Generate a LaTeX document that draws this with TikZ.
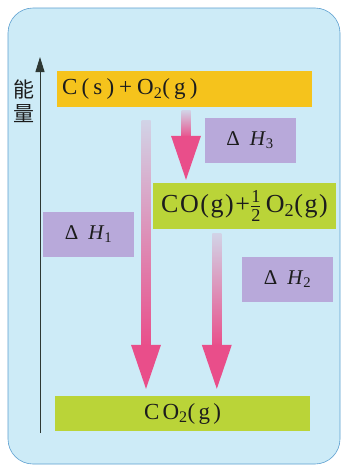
\documentclass[tikz,border=0pt]{standalone}
\usepackage{amsmath}
\usepackage{fontspec}
\setmainfont{Liberation Serif}
\newfontfamily\cjk{Noto Sans CJK SC}
\usetikzlibrary{arrows.meta,positioning,calc}
\usepackage{xcolor}
\definecolor{bgblue}{HTML}{CDEBF7}
\definecolor{edgeblue}{HTML}{5C9FD0}
\definecolor{levelyellow}{HTML}{F5C31C}
\definecolor{levelgreen}{HTML}{BAD438}
\definecolor{heatpurple}{HTML}{B8A9DA}
\definecolor{arrowpink}{HTML}{E94E8A}
\definecolor{axisgray}{HTML}{2E3834}
\definecolor{inkdark}{HTML}{1C1C1C}

% thick shaded arrow between two coordinates
\newcommand{\heatarrow}[2]{%
  \shade[top color=arrowpink!15!bgblue, bottom color=arrowpink]
    ($(#1)+(-4.5,0)$) rectangle ($(#2)+(4.5,-42)$);
  \fill[arrowpink] ($(#2)+(-15,-44)$) -- ($(#2)+(15,-44)$) -- (#2) -- cycle;}

\begin{document}
\begin{tikzpicture}[x=1pt, y=-1pt,
  level/.style={minimum height=36pt, inner sep=0pt, text=inkdark,
    font=\fontsize{23}{27}\selectfont\addfontfeature{LetterSpace=14}},
  heat/.style={fill=heatpurple, minimum width=91pt, minimum height=45pt,
    inner sep=0pt, text=inkdark, font=\fontsize{21}{25}\selectfont}
]
\useasboundingbox (0,0) rectangle (341,466);
\fill[white] (0,0) rectangle (341,466);
\draw[fill=bgblue, draw=edgeblue, line width=0.6pt, rounded corners=25pt]
  (8,8) rectangle (340,464);

% energy axis
\coordinate (axbot) at (40,433);
\coordinate (axtop) at (40,57);
\draw[axisgray, line width=1pt, -{Triangle[length=15pt,width=9pt]}] (axbot) -- (axtop);
\node[text=inkdark, align=center, font=\cjk\fontsize{21}{24}\selectfont, inner sep=0pt]
  (energy) at (24,101) {能\\量};

% levels
\node[level, fill=levelyellow, anchor=west, text width=245pt, inner xsep=5pt, align=left,
    font=\fontsize{23}{27}\selectfont\addfontfeature{LetterSpace=18}]
  (levelA) at (57,89) {C(s)\hspace{5pt}+\hspace{5pt}O\textsubscript{2}(g)};
\node[level, fill=levelgreen, minimum width=183pt, minimum height=46pt,
    font=\fontsize{26}{30}\selectfont\addfontfeature{LetterSpace=6}]
  (levelB) at (244.5,206) {CO(g)+\ensuremath{\tfrac{\text{1}}{\text{2}}}\,O\textsubscript{2}(g)};
\node[level, fill=levelgreen, minimum width=255pt, minimum height=35pt]
  (levelC) at (182.5,413.5) {CO\textsubscript{2}(g)};

% enthalpy labels
\node[heat] (dH3) at (250,140.5) {Δ\hspace{10pt}\textit{H}\textsubscript{3}};
\node[heat] (dH1) at (88.5,234.5) {Δ\hspace{10pt}\textit{H}\textsubscript{1}};
\node[heat] (dH2) at (287.5,279.5) {Δ\hspace{10pt}\textit{H}\textsubscript{2}};

% arrows
\coordinate (a3s) at ($(levelA.south west)+(129,3)$);
\coordinate (a3e) at (a3s |- {$(levelB.north)+(0,-3)$});
\coordinate (a1s) at ($(levelA.south west)+(89,13)$);
\coordinate (a1e) at (a1s |- {$(levelC.north)+(0,-7)$});
\coordinate (a2s) at ($(levelB.south west)+(64,4)$);
\coordinate (a2e) at (a2s |- {$(levelC.north)+(0,-7)$});
\heatarrow{a3s}{a3e}
\heatarrow{a1s}{a1e}
\heatarrow{a2s}{a2e}
\end{tikzpicture}
\end{document}
